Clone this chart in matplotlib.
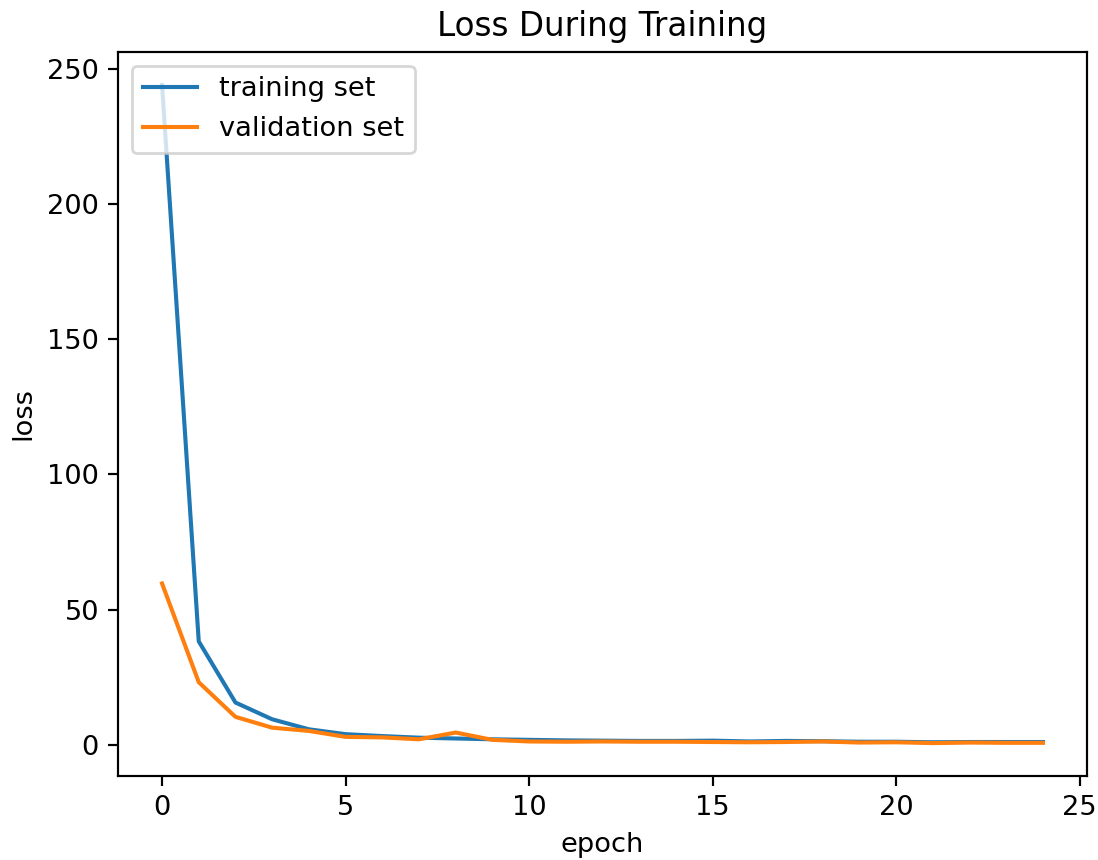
import matplotlib
matplotlib.use("Agg")
import matplotlib.pyplot as plt
import numpy as np

epochs = np.arange(25)
train_loss = [244.0, 38.3, 15.7, 9.5, 5.8, 4.0, 3.3, 2.7, 2.4, 2.1, 1.9,
              1.7, 1.6, 1.5, 1.5, 1.6, 1.3, 1.5, 1.4, 1.2, 1.2, 1.0, 1.1, 1.1, 1.1]
val_loss = [59.7, 23.2, 10.4, 6.4, 5.2, 3.0, 2.8, 2.1, 4.6, 1.9, 1.3,
            1.2, 1.3, 1.2, 1.2, 1.1, 1.0, 1.1, 1.3, 0.9, 1.0, 0.7, 0.9, 0.8, 0.8]

W, H, dpi = 1098, 860, 196
fig = plt.figure(figsize=(W / dpi, H / dpi), dpi=dpi)
ax = fig.add_axes([118 / W, (H - 776) / H, 969 / W, 724 / H])

ax.plot(epochs, train_loss, label="training set")
ax.plot(epochs, val_loss, label="validation set")
ax.set_title("Loss During Training")
ax.set_xlabel("epoch")
ax.set_ylabel("loss")
ax.legend(loc="upper left")

fig.savefig("out.png", dpi=dpi)
